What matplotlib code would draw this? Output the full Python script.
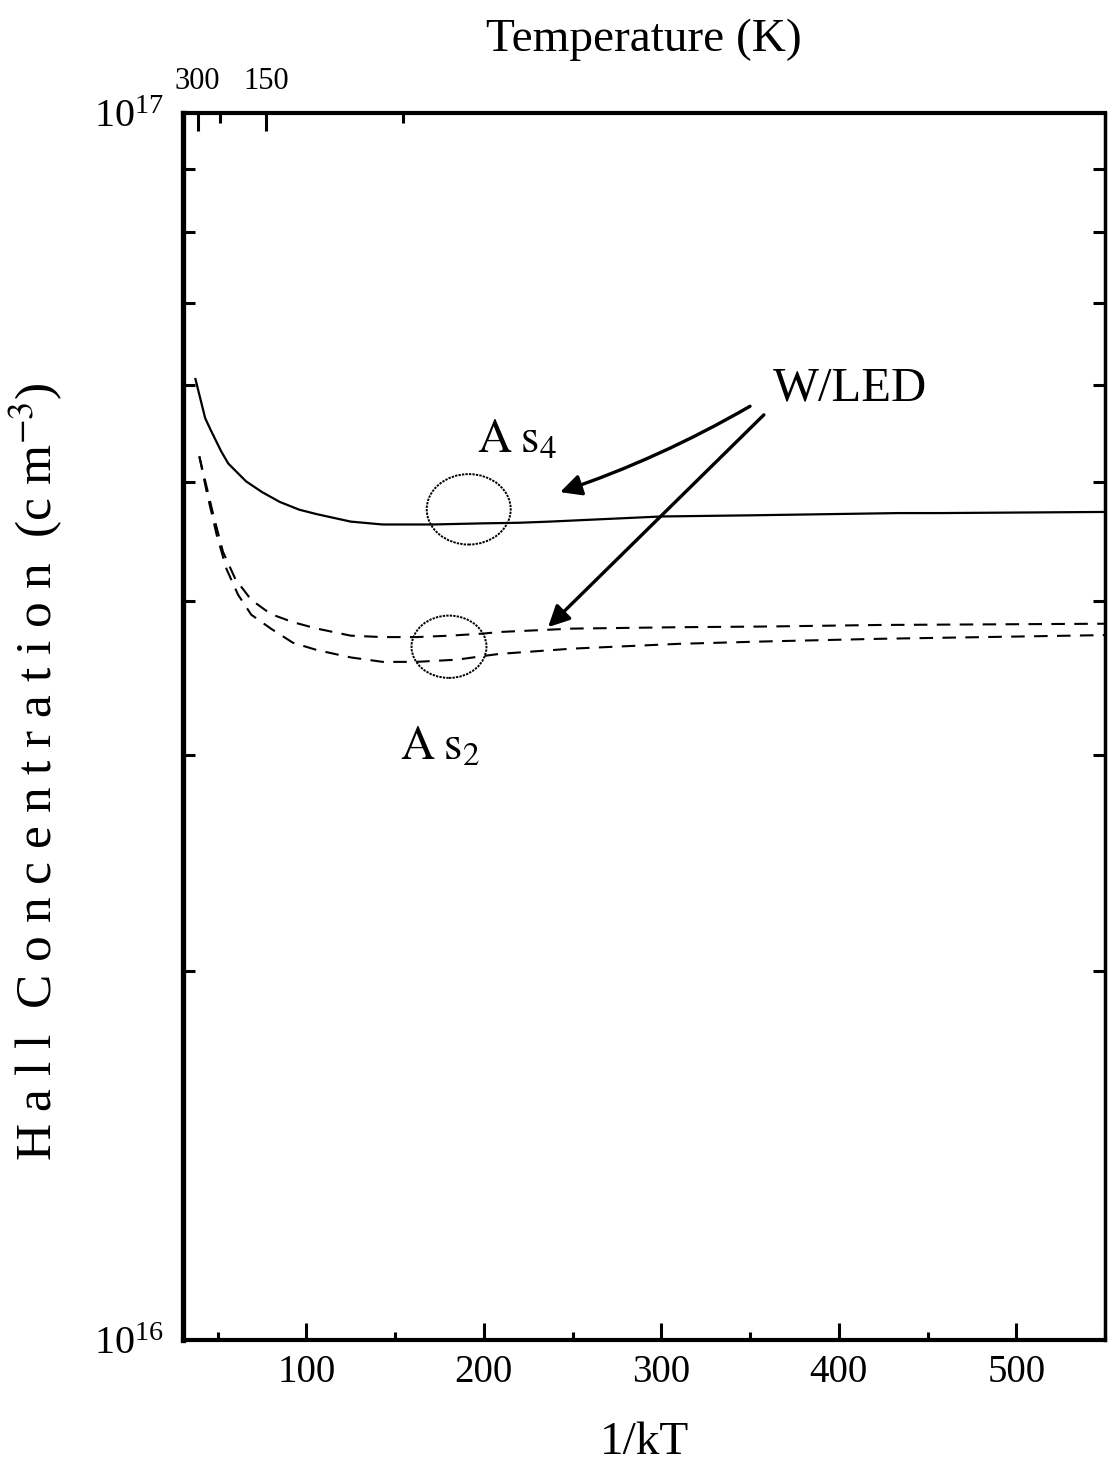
import numpy as np
import matplotlib
matplotlib.use("Agg")
import matplotlib.pyplot as plt
from matplotlib.patches import Ellipse
from matplotlib.ticker import FixedLocator, MultipleLocator, LogLocator, NullFormatter, FixedFormatter

plt.rcParams['font.family'] = ['Liberation Serif', 'DejaVu Serif']
plt.rcParams['mathtext.fontset'] = 'stix'

K_B = 8.617e-5  # Boltzmann constant, eV/K

# As4 grown sample (solid curve): 1/kT (1/eV) and Hall concentration (1e16 cm^-3)
inv_kT_as4 = [37.5, 43, 46, 52, 56, 66, 75, 85, 96, 106, 125, 143, 171, 200,
              220, 237, 300, 350, 434, 457, 550]
hall_as4 = [6.07, 5.64, 5.52, 5.30, 5.18, 5.01, 4.91, 4.82, 4.75, 4.71, 4.645,
            4.62, 4.62, 4.63, 4.635, 4.645, 4.69, 4.70, 4.72, 4.72, 4.73]

# As2 grown samples (dashed curves)
inv_kT_as2_a = [39.7, 43.5, 47.5, 53, 60, 69, 80, 92.5, 106, 125, 143, 162,
                181, 200, 209, 250, 310, 360, 423, 550]
hall_as2_a = [5.25, 4.98, 4.71, 4.39, 4.17, 4.01, 3.905, 3.846, 3.80, 3.75,
              3.74, 3.74, 3.75, 3.765, 3.776, 3.80, 3.81, 3.815, 3.826, 3.835]

inv_kT_as2_b = [39.7, 44, 49.5, 55, 61.5, 69, 80, 92.5, 106, 125, 143, 162,
                185, 200, 209, 250, 310, 360, 423, 550]
hall_as2_b = [5.25, 4.90, 4.53, 4.25, 4.05, 3.90, 3.80, 3.70, 3.65, 3.60,
              3.57, 3.57, 3.585, 3.61, 3.624, 3.66, 3.693, 3.71, 3.728, 3.754]

x_major = [100, 200, 300, 400, 500]
temp_major = [300, 150]
temp_minor = [225, 75]

fig = plt.figure(figsize=(11.11, 14.65), dpi=100)
ax = fig.add_axes([183 / 1111, 125 / 1465, 922 / 1111, 1227 / 1465])

ax.plot(inv_kT_as4, np.array(hall_as4) * 1e16, color='black', lw=1.6)
ax.plot(inv_kT_as2_a, np.array(hall_as2_a) * 1e16, color='black', lw=1.5,
        dashes=(6.5, 4.5))
ax.plot(inv_kT_as2_b, np.array(hall_as2_b) * 1e16, color='black', lw=1.5,
        dashes=(6.5, 4.5))

ax.set_yscale('log')
ax.set_ylim(1e16, 1e17)
ax.set_xlim(30.5, 550)

ax.xaxis.set_major_locator(FixedLocator(x_major))
ax.xaxis.set_minor_locator(MultipleLocator(50))
ax.yaxis.set_major_locator(LogLocator(base=10))
ax.yaxis.set_minor_locator(LogLocator(base=10, subs=np.arange(2, 10)))
ax.yaxis.set_minor_formatter(NullFormatter())

ax.tick_params(axis='x', which='major', direction='in', length=12, width=2.2,
               labelsize=28, pad=10, top=False)
ax.tick_params(axis='x', which='minor', direction='in', length=6, width=2.2,
               top=False)
ax.tick_params(axis='y', which='major', direction='in', length=0,
               labelsize=29, pad=14, left=True, right=True)
ax.tick_params(axis='y', which='minor', direction='in', length=8.5, width=2.2,
               left=True, right=True)

for side, lw in (('left', 3.8), ('bottom', 3.0), ('top', 3.0), ('right', 2.5)):
    ax.spines[side].set_linewidth(lw)

ax.set_xlabel('1/kT', fontsize=34, labelpad=22)
ax.set_ylabel(r'H a l l  C o n c e n t r a t i o n  (c m$^{-3}$)', fontsize=37)
ax.yaxis.set_label_coords(-0.128, 0.463)

# Temperature scale along the top edge
ax_top = ax.twiny()
ax_top.set_xlim(ax.get_xlim())
ax_top.xaxis.set_major_locator(FixedLocator([1 / (K_B * t) for t in temp_major]))
ax_top.xaxis.set_major_formatter(FixedFormatter([str(t) for t in temp_major]))
ax_top.xaxis.set_minor_locator(FixedLocator([1 / (K_B * t) for t in temp_minor]))
ax_top.tick_params(axis='x', which='major', direction='in', length=13, width=2.2,
                   labelsize=22, pad=12)
ax_top.tick_params(axis='x', which='minor', direction='in', length=7, width=2.2)
ax_top.set_xlabel('Temperature (K)', fontsize=34, labelpad=12)
for s in ax_top.spines.values():
    s.set_visible(False)

# Group markers and labels
ax.add_patch(Ellipse((0.3099, 0.6770), 0.0911, 0.0574, transform=ax.transAxes,
                     fill=False, lw=1.4, ls=(0, (1.2, 0.6)), color='black'))
ax.add_patch(Ellipse((0.2885, 0.5650), 0.0813, 0.0508, transform=ax.transAxes,
                     fill=False, lw=1.4, ls=(0, (1.2, 0.6)), color='black'))
ax.text(0.319, 0.723, r'$\mathrm{A\;s_{4}}$', transform=ax.transAxes,
        fontsize=34, va='baseline', ha='left')
ax.text(0.235, 0.473, r'$\mathrm{A\;s_{2}}$', transform=ax.transAxes,
        fontsize=34, va='baseline', ha='left')
ax.text(0.640, 0.766, 'W/LED', transform=ax.transAxes, fontsize=35,
        va='baseline', ha='left')

arrow = dict(arrowstyle='-|>', lw=2.4, color='black', mutation_scale=32,
             shrinkA=0, shrinkB=0)
ax.annotate('', xy=(0.409, 0.691), xytext=(0.615, 0.761),
            xycoords='axes fraction', textcoords='axes fraction',
            arrowprops=dict(arrow, connectionstyle='arc3,rad=-0.05'))
ax.annotate('', xy=(0.396, 0.581), xytext=(0.630, 0.754),
            xycoords='axes fraction', textcoords='axes fraction',
            arrowprops=arrow)

fig.savefig('out.png', dpi=100)
